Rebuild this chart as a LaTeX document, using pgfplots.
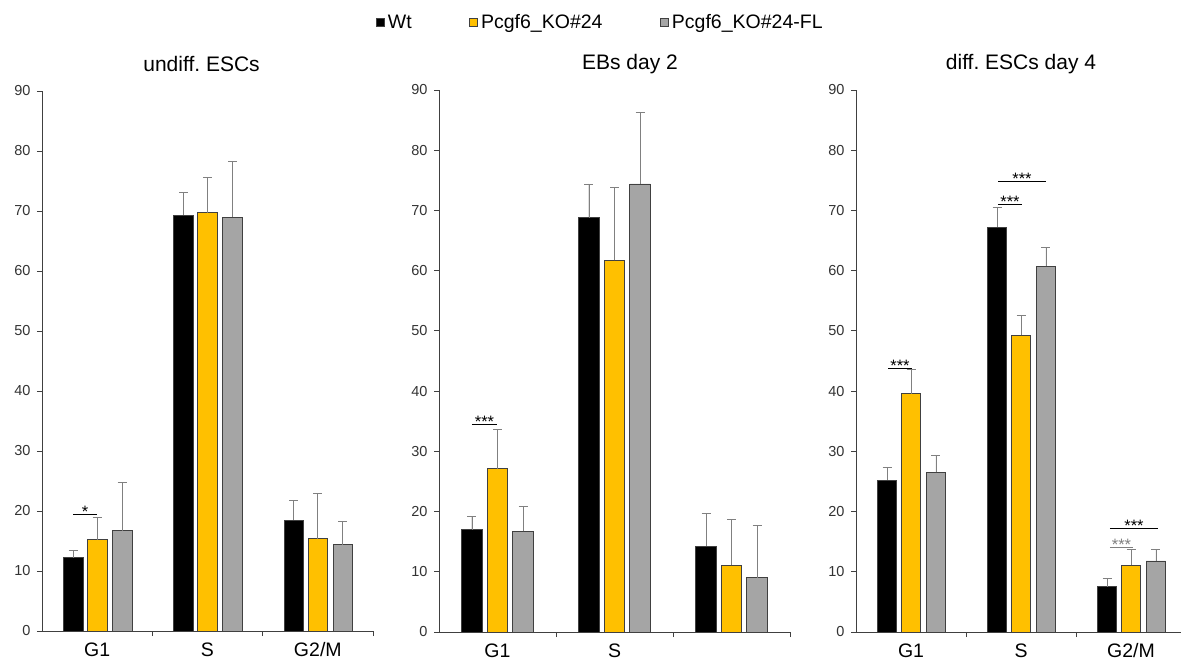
\documentclass[border=0pt]{standalone}
\usepackage{fontspec}
\setmainfont{Liberation Sans}
\usepackage{pgfplots}
\usepackage{pgfplotstable}
\pgfplotsset{compat=1.18}
\definecolor{koc}{HTML}{FFC000}
\definecolor{flc}{HTML}{A5A5A5}
\definecolor{edge}{HTML}{404040}
\definecolor{errc}{HTML}{808080}
\definecolor{axc}{HTML}{404040}

\pgfplotstableread{
x wt wte ko koe fl fle
0 12.2 1.2 15.2 3.8 16.7 8.0
1 69.3 3.8 69.7 5.9 69.0 9.3
2 18.5 3.2 15.4 7.5 14.4 3.9
}\undiff
\pgfplotstableread{
x wt wte ko koe fl fle
0 17.0 2.2 27.1 6.6 16.7 4.2
1 68.8 5.6 61.7 12.1 74.4 11.8
2 14.2 5.5 11.1 7.6 9.0 8.7
}\ebs
\pgfplotstableread{
x wt wte ko koe fl fle
0 25.2 2.1 39.6 4.0 26.5 2.9
1 67.2 3.3 49.3 3.2 60.7 3.1
2 7.5 1.4 11.1 2.6 11.8 1.9
}\diffd

\newcommand{\sig}[5]{\draw[draw=#4, line width=0.8pt] (axis cs:#1,#3) -- (axis cs:#2,#3) node[midway, anchor=base, yshift=-3.5pt, inner sep=0pt, font=\fontsize{16.5}{18}\selectfont, text=#4] {#5};}

\pgfplotsset{
  panel/.style={
    scale only axis, anchor=south west,
    ymin=0, ymax=90, ytick={0,10,...,90},
    xmin=-0.5, xmax=2.5,
    axis x line=bottom, axis y line=left,
    axis line style={-, draw=axc, line width=0.8pt},
    xtick={0.5,1.5,2.5}, xticklabels={,,},
    extra x ticks={0,1,2},
    extra x tick style={tick style={draw=none}},
    tick style={draw=axc, line width=0.8pt},
    major tick length=5pt, tick align=outside,
    /pgf/number format/assume math mode=true,
    yticklabel style={font=\fontsize{14.5}{17}\selectfont, text=black!80, xshift=-3pt},
    xticklabel style={font=\fontsize{19.5}{23}\selectfont, text=black, yshift=-3pt},
    title style={font=\fontsize{21}{25}\selectfont, anchor=base, yshift=14pt},
    clip=false,
  },
  bars/.style={ybar, bar width=#1pt, bar shift=0pt, draw=edge, line width=0.7pt,
    error bars/y dir=plus, error bars/y explicit,
    error bars/error bar style={draw=errc, line width=0.8pt},
    error bars/error mark options={rotate=90, mark size=4.5pt, draw=errc, line width=0.8pt}},
}

\begin{document}
\frenchspacing
\begin{tikzpicture}
\useasboundingbox (0,0) rectangle (1181pt,664pt);

% Panel 1
\begin{axis}[panel, at={(42pt,33pt)}, width=331pt, height=540pt,
  extra x tick labels={G1,S,G2/M},
  title={undiff. ESCs}, title style={at={(0.482,1)}},
  legend columns=3,
  legend style={at={(1.686,1.127)}, anchor=center, draw=none, fill=none,
    font=\fontsize{19.5}{23}\selectfont,
    nodes={inner sep=2pt},
    /tikz/every even column/.append style={column sep=55pt}},
]
\addlegendimage{legend image code/.code={\draw[fill=black, draw=edge] (0pt,-4pt) rectangle (8pt,4pt); \path (10pt,0pt);}}
\addlegendentry{Wt}
\addlegendimage{legend image code/.code={\draw[fill=koc, draw=edge] (0pt,-4pt) rectangle (8pt,4pt); \path (10pt,0pt);}}
\addlegendentry{Pcgf6\_KO\#24}
\addlegendimage{legend image code/.code={\draw[fill=flc, draw=edge] (0pt,-4pt) rectangle (8pt,4pt); \path (10pt,0pt);}}
\addlegendentry{Pcgf6\_KO\#24-FL}
\addplot[bars=19.5, fill=black] table[x expr=\thisrow{x}-0.2175, y=wt, y error=wte]{\undiff};
\addplot[bars=19.5, fill=koc] table[x=x, y=ko, y error=koe]{\undiff};
\addplot[bars=19.5, fill=flc] table[x expr=\thisrow{x}+0.2266, y=fl, y error=fle]{\undiff};
\sig{-0.2175}{0}{19.5}{black}{*}
\end{axis}

% Panel 2
\begin{axis}[panel, at={(439pt,32pt)}, width=351pt, height=542pt,
  extra x tick labels={G1,S,},
  title={EBs day 2}, title style={at={(0.544,1)}},
]
\addplot[bars=20.5, fill=black] table[x expr=\thisrow{x}-0.218, y=wt, y error=wte]{\ebs};
\addplot[bars=20.5, fill=koc] table[x=x, y=ko, y error=koe]{\ebs};
\addplot[bars=20.5, fill=flc] table[x expr=\thisrow{x}+0.218, y=fl, y error=fle]{\ebs};
\sig{-0.218}{-0.004}{34.5}{black}{***}
\end{axis}

% Panel 3
\begin{axis}[panel, at={(856pt,32pt)}, width=330pt, height=542pt,
  extra x tick labels={G1,S,G2/M},
  title={diff. ESCs day 4}, title style={at={(0.5,1)}},
]
\addplot[bars=19.5, fill=black] table[x expr=\thisrow{x}-0.218, y=wt, y error=wte]{\diffd};
\addplot[bars=19.5, fill=koc] table[x=x, y=ko, y error=koe]{\diffd};
\addplot[bars=19.5, fill=flc] table[x expr=\thisrow{x}+0.227, y=fl, y error=fle]{\diffd};
\sig{-0.209}{0.009}{43.8}{black}{***}
\sig{0.791}{1.009}{71.0}{black}{***}
\sig{0.791}{1.227}{74.9}{black}{***}
\sig{1.809}{2.018}{14.1}{errc}{***}
\sig{1.809}{2.245}{17.2}{black}{***}
\end{axis}
\end{tikzpicture}
\end{document}
